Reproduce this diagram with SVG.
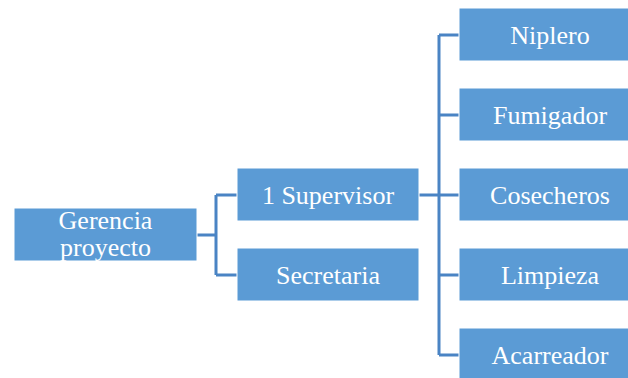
<svg xmlns="http://www.w3.org/2000/svg" width="628" height="378" viewBox="0 0 628 378">
  <style>
    .box { fill: #5B9BD5; stroke: #FFFFFF; stroke-width: 1; }
    .lbl { fill: #FFFFFF; font-family: "Liberation Serif", "Times New Roman", serif; font-size: 26px; text-anchor: middle; }
    .wire { fill: none; stroke: #4A84C4; stroke-width: 3; }
  </style>
  <rect width="628" height="378" fill="#FFFFFF"/>

  <g id="connectors">
    <!-- Gerencia to second level -->
    <path class="wire" d="M197,235 H216 M216,195 V275 M216,195 H237 M216,275 H237"/>
    <!-- Supervisor to field staff -->
    <path class="wire" d="M419,195 H439 M439,35 V355 M439,35 H459 M439,115 H459 M439,195 H459 M439,275 H459 M439,355 H459"/>
  </g>

  <g id="gerencia">
    <rect class="box" x="14" y="208" width="183" height="53"/>
    <text class="lbl" x="105.5" y="228.5">Gerencia</text>
    <text class="lbl" x="105.5" y="255.5">proyecto</text>
  </g>

  <g id="supervisor">
    <rect class="box" x="237" y="168" width="182" height="53"/>
    <text class="lbl" x="328" y="203.5">1 Supervisor</text>
  </g>

  <g id="secretaria">
    <rect class="box" x="237" y="248" width="182" height="53"/>
    <text class="lbl" x="328" y="283.5">Secretaria</text>
  </g>

  <g id="niplero">
    <rect class="box" x="459" y="8" width="182" height="53"/>
    <text class="lbl" x="550" y="43.5">Niplero</text>
  </g>

  <g id="fumigador">
    <rect class="box" x="459" y="88" width="182" height="53"/>
    <text class="lbl" x="550" y="123.5">Fumigador</text>
  </g>

  <g id="cosecheros">
    <rect class="box" x="459" y="168" width="182" height="53"/>
    <text class="lbl" x="550" y="203.5">Cosecheros</text>
  </g>

  <g id="limpieza">
    <rect class="box" x="459" y="248" width="182" height="53"/>
    <text class="lbl" x="550" y="283.5">Limpieza</text>
  </g>

  <g id="acarreador">
    <rect class="box" x="459" y="328" width="182" height="53"/>
    <text class="lbl" x="550" y="363.5">Acarreador</text>
  </g>
</svg>
